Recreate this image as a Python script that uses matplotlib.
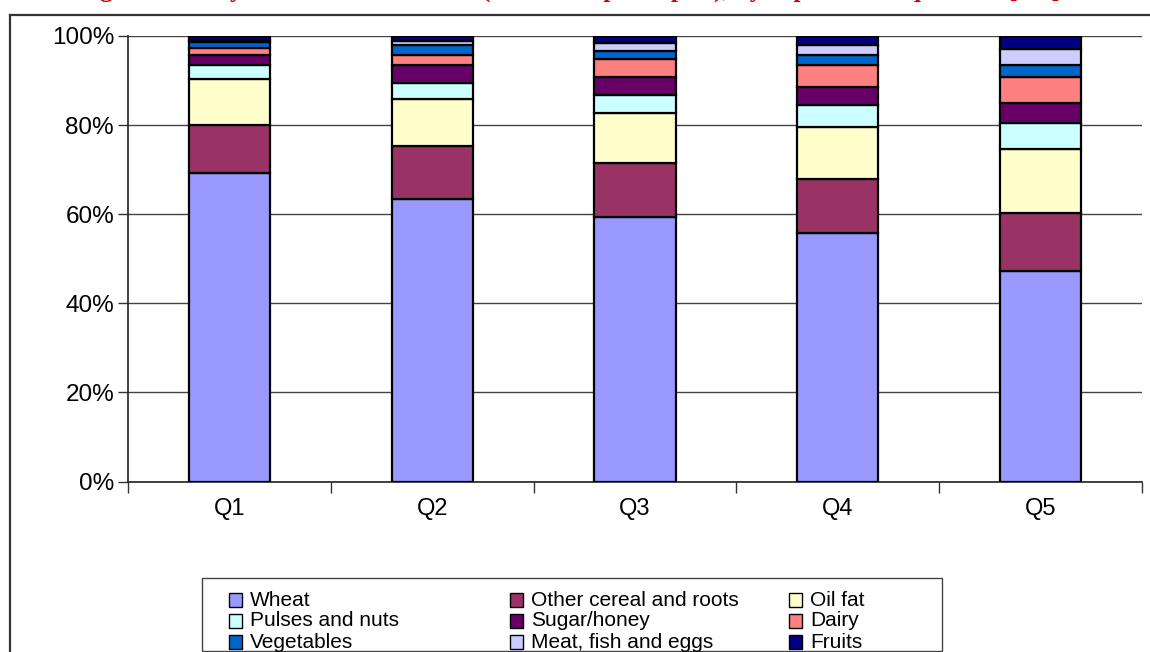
import numpy as np
import matplotlib.pyplot as plt
from matplotlib.patches import Rectangle
from matplotlib.lines import Line2D

plt.rcParams['font.family'] = ['Liberation Sans', 'DejaVu Sans']

# Data: share of daily calories (%) per food group, by expenditure quintile
quintiles = ["Q1", "Q2", "Q3", "Q4", "Q5"]
groups = ["Wheat", "Other cereal and roots", "Oil fat", "Pulses and nuts",
          "Sugar/honey", "Dairy", "Vegetables", "Meat, fish and eggs", "Fruits"]
wheat = [69.3, 63.4, 59.4, 55.8, 47.2]
other_cereal = [10.8, 11.8, 12.2, 12.2, 13.1]
oil_fat = [10.3, 10.7, 11.2, 11.6, 14.4]
pulses = [3.1, 3.6, 4.0, 4.9, 5.8]
sugar = [2.3, 4.1, 4.1, 4.1, 4.5]
dairy = [1.4, 2.2, 4.0, 4.9, 5.9]
vegetables = [1.5, 2.2, 1.7, 2.2, 2.6]
meat = [0.3, 0.9, 1.9, 2.3, 3.6]
fruits = [1.0, 1.1, 1.5, 2.0, 2.9]
colors = ["#9999FF", "#993366", "#FFFFCC", "#CCFFFF", "#660066",
          "#FF8080", "#0066CC", "#CCCCFF", "#000080"]

values = np.array([wheat, other_cereal, oil_fat, pulses, sugar,
                   dairy, vegetables, meat, fruits])
shares = values / values.sum(axis=0) * 100

W, H = 1150, 652
fig = plt.figure(figsize=(W / 100, H / 100), dpi=100)

def fx(px):
    return px / W

def fy(py):
    return 1 - py / H

ax = fig.add_axes([fx(128), fy(481.5), fx(1142) - fx(128), fy(36) - fy(481.5)])

x = np.arange(len(quintiles))
bottom = np.zeros(len(quintiles))
for name, s, c in zip(groups, shares, colors):
    ax.bar(x, s, 0.4, bottom=bottom, color=c, edgecolor="black",
           linewidth=1.6, label=name, zorder=3)
    bottom += s

ax.set_xlim(-0.5, len(quintiles) - 0.5)
ax.set_ylim(0, 100)
ax.set_yticks(np.arange(0, 101, 20))
ax.set_yticklabels([f"{v}%" for v in range(0, 101, 20)], fontsize=17.5)
ax.set_xticks(x)
ax.set_xticklabels(quintiles, fontsize=17)
ax.set_xticks(np.arange(-0.5, len(quintiles)), minor=True)
ax.tick_params(axis="x", which="major", length=0, pad=12)
ax.tick_params(axis="x", which="minor", length=8, width=1, color="#333333")
ax.tick_params(axis="y", length=7, width=1, color="#333333", pad=3)
ax.yaxis.grid(True, color="#444444", linewidth=1, zorder=0)
ax.set_axisbelow(True)
for side in ["top", "right"]:
    ax.spines[side].set_visible(False)
for side in ["left", "bottom"]:
    ax.spines[side].set_color("#222222")
    ax.spines[side].set_linewidth(1.2)

# outer chart frame
fig.add_artist(Line2D([fx(10), fx(10)], [fy(15), 0], color="#333333", lw=1.6))
fig.add_artist(Line2D([fx(10), 1], [fy(15), fy(15)], color="#333333", lw=1.6))

# title, cut off at the top edge as in the original image
fig.text(0.5, fy(-3), "Figure 2: Daily calorie intake shares (% of kcal per capita), by expenditure quintile Q1-Q5",
         ha="center", va="baseline", color="#CC0000", fontsize=18.5, fontweight="bold",
         family=["Liberation Serif", "DejaVu Serif"])

# legend box laid out like the original (row by row)
fig.add_artist(Rectangle((fx(202), fy(651)), fx(942) - fx(202), fy(578) - fy(651),
                         transform=fig.transFigure, facecolor="white",
                         edgecolor="#444444", lw=1))
col_x = [229, 510, 789]
row_y = [600, 621, 642]
for i, (name, c) in enumerate(zip(groups, colors)):
    r, k = divmod(i, 3)
    fig.add_artist(Rectangle((fx(col_x[k]), fy(row_y[r] + 7)), fx(13), fy(row_y[r] - 7) - fy(row_y[r] + 7),
                             transform=fig.transFigure, facecolor=c,
                             edgecolor="black", lw=1))
    fig.text(fx(col_x[k] + 21), fy(row_y[r]), name, ha="left", va="center", fontsize=15)

fig.savefig("out.png", dpi=100)
